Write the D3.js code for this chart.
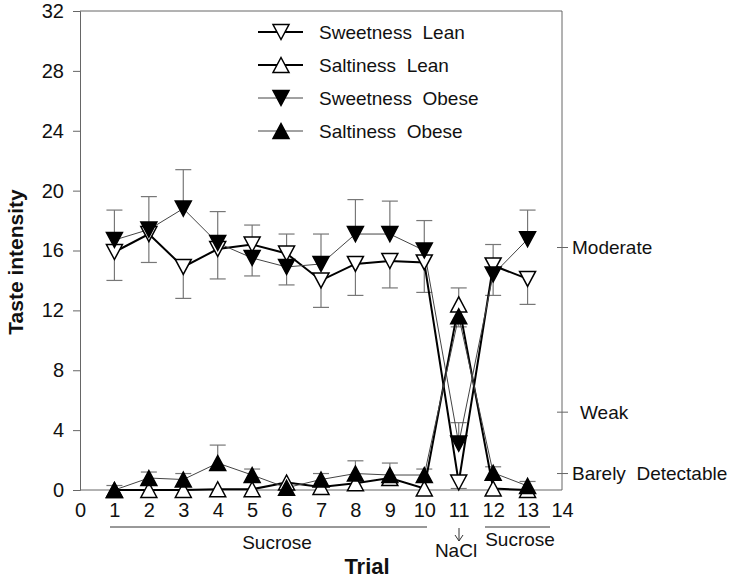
<!DOCTYPE html>
<html><head><meta charset="utf-8">
<script src="https://cdn.jsdelivr.net/npm/d3@7"></script>
<style>
body{margin:0;background:#fff;}
svg{display:block;font-family:"Liberation Sans",Arial,sans-serif;}
</style></head>
<body><svg id="c" width="729" height="581"></svg>
<script>
const trials = [1,2,3,4,5,6,7,8,9,10,11,12,13];
const sweetLean     = [15.9,17.1,14.9,16.1,16.4,15.8,14.0,15.1,15.3,15.2,0.5,15.0,14.1];
const sweetLeanErr  = [1.9,1.9,2.1,2.0,2.1,2.1,1.8,2.1,1.8,2.0,0.4,2.0,1.7];
const saltLean      = [0,0,0,0.05,0.05,0.5,0.2,0.45,0.8,0.1,12.4,0.1,0];
const saltLeanErr   = [0,0,0,0,0,0,0,0,0,0,1.5,0,0];
const sweetObese    = [16.7,17.4,18.8,16.5,15.5,14.9,15.1,17.1,17.1,16.0,3.1,14.4,16.75];
const sweetObeseErr = [2.0,2.2,2.6,2.1,2.2,2.2,2.0,2.3,2.2,2.0,1.4,2.0,1.95];
const saltObese     = [0,0.8,0.7,1.8,1.0,0.15,0.7,1.1,1.0,1.0,11.6,1.15,0.27];
const saltObeseErr  = [0.3,0.4,0.4,1.2,0.4,0.3,0.4,0.85,0.8,0.4,1.9,0.4,0.3];
const yTicks = [0,4,8,12,16,20,24,28,32];
const xTicks = [0,1,2,3,4,5,6,7,8,9,10,11,12,13,14];
const rightLabels = ["Moderate","Weak","Barely  Detectable"];
const rightValues = [16.2,5.2,1.1];
const seriesNames = ["Sweetness  Lean","Saltiness  Lean","Sweetness  Obese","Saltiness  Obese"];

const svg = d3.select("#c");
const x = d3.scaleLinear().domain([0,14]).range([80,562]);
const y = d3.scaleLinear().domain([0,32]).range([490,11]);
const frameCol = "#666";

// frame
svg.append("line").attr("x1",80).attr("x2",562).attr("y1",y(32)).attr("y2",y(32)).attr("stroke",frameCol);
svg.append("line").attr("x1",80).attr("x2",562).attr("y1",y(0)).attr("y2",y(0)).attr("stroke",frameCol);
svg.append("line").attr("x1",562).attr("x2",562).attr("y1",y(32)).attr("y2",y(0)).attr("stroke",frameCol);

// y axis
const ya = svg.append("g").attr("transform","translate(80,0)")
  .call(d3.axisLeft(y).tickValues(yTicks).tickSize(7).tickPadding(9));
ya.selectAll("path,line").attr("stroke",frameCol);
ya.selectAll("text").attr("font-size",20).attr("fill","#111").attr("font-family","Liberation Sans, Arial, sans-serif");

// x tick labels
const xa = svg.append("g").attr("transform","translate(0,490)")
  .call(d3.axisBottom(x).tickValues(xTicks).tickSize(0).tickPadding(13).tickFormat(d3.format("d")));
xa.select("path").remove();
xa.selectAll("text").attr("font-size",20).attr("fill","#111").attr("font-family","Liberation Sans, Arial, sans-serif");

// right labels
rightValues.forEach((v,i)=>{
  svg.append("line").attr("x1",557).attr("x2",568).attr("y1",y(v)).attr("y2",y(v)).attr("stroke",frameCol);
  svg.append("text").attr("x", i===1?580:572).attr("y",y(v)).attr("dy","0.35em")
    .attr("font-size",19).attr("fill","#111").style("white-space","pre").text(rightLabels[i]);
});

// error bars
function errBars(vals, errs, dir){
  const g = svg.append("g").attr("stroke","#777").attr("stroke-width",1.2);
  trials.forEach((t,i)=>{
    if(!errs[i]) return;
    const y1 = y(vals[i]), y2 = y(vals[i] + dir*errs[i]);
    g.append("line").attr("x1",x(t)).attr("x2",x(t)).attr("y1",y1).attr("y2",y2);
    g.append("line").attr("x1",x(t)-8).attr("x2",x(t)+8).attr("y1",y2).attr("y2",y2);
  });
}
errBars(sweetLean, sweetLeanErr, -1);
errBars(saltLean, saltLeanErr, -1);
errBars(sweetObese, sweetObeseErr, 1);
errBars(saltObese, saltObeseErr, 1);

const line = d3.line().x((d,i)=>x(trials[i])).y(d=>y(d));
function tri(down){
  const w=8,h=7.5;
  return down ? `M${-w},${-h}L${w},${-h}L0,${h}Z` : `M${-w},${h}L${w},${h}L0,${-h}Z`;
}
const series = [
  {v:sweetLean, down:true, fill:"#fff", lw:2, lc:"#000"},
  {v:saltLean, down:false, fill:"#fff", lw:2, lc:"#000"},
  {v:sweetObese, down:true, fill:"#000", lw:1, lc:"#444"},
  {v:saltObese, down:false, fill:"#000", lw:1, lc:"#444"}
];
series.forEach(s=>{
  svg.append("path").datum(s.v).attr("d",line).attr("fill","none").attr("stroke",s.lc).attr("stroke-width",s.lw);
});
series.forEach(s=>{
  svg.append("g").selectAll("path").data(s.v).join("path")
    .attr("transform",(d,i)=>`translate(${x(trials[i])},${y(d)})`)
    .attr("d",tri(s.down)).attr("fill",s.fill).attr("stroke","#000").attr("stroke-width",1.5);
});

// legend
const legY = [32,65,98,131];
series.forEach((s,i)=>{
  svg.append("line").attr("x1",258).attr("x2",303).attr("y1",legY[i]).attr("y2",legY[i]).attr("stroke",s.lc).attr("stroke-width",s.lw);
  svg.append("path").attr("transform",`translate(281,${legY[i]})`).attr("d",tri(s.down)).attr("fill",s.fill).attr("stroke","#000").attr("stroke-width",1.5);
  svg.append("text").attr("x",319).attr("y",legY[i]).attr("dy","0.35em").attr("font-size",19).attr("fill","#111")
    .style("white-space","pre").text(seriesNames[i]);
});

// bottom annotations
svg.append("line").attr("x1",110).attr("x2",427).attr("y1",527).attr("y2",527).attr("stroke","#333");
svg.append("line").attr("x1",485).attr("x2",550).attr("y1",527).attr("y2",527).attr("stroke","#333");
svg.append("text").attr("x",277).attr("y",549).attr("text-anchor","middle").attr("font-size",19).attr("fill","#111").text("Sucrose");
svg.append("text").attr("x",520).attr("y",546).attr("text-anchor","middle").attr("font-size",19).attr("fill","#111").text("Sucrose");
svg.append("path").attr("d","M459,528L459,541M455,535L459,541L463,535").attr("fill","none").attr("stroke","#333");
svg.append("text").attr("x",456).attr("y",557).attr("text-anchor","middle").attr("font-size",19).attr("fill","#111").text("NaCl");

// axis titles
svg.append("text").attr("x",367).attr("y",574).attr("text-anchor","middle").attr("font-size",22).attr("font-weight","bold").attr("fill","#111").text("Trial");
svg.append("text").attr("transform","translate(23,262) rotate(-90)").attr("text-anchor","middle").attr("font-size",21).attr("font-weight","bold").attr("fill","#111").text("Taste intensity");
</script></body></html>
